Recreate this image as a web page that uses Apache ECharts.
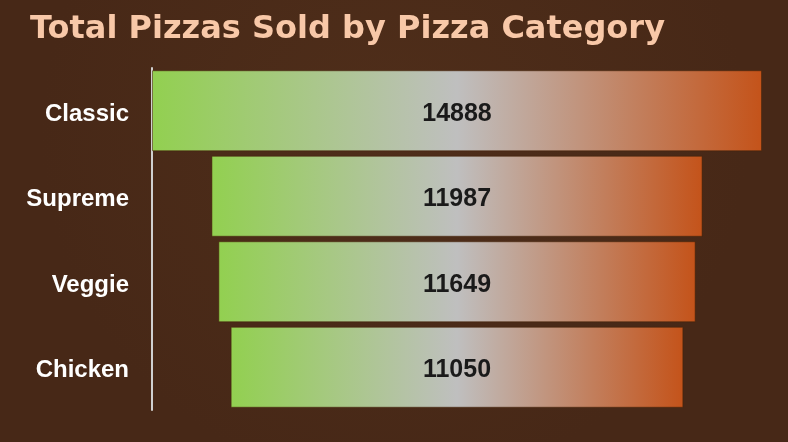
<!DOCTYPE html>
<html><head><meta charset="utf-8">
<script src="https://cdn.jsdelivr.net/npm/echarts@6/dist/echarts.min.js"></script>
<style>html,body{margin:0;padding:0;background:#482917;}#c{width:788px;height:442px;}</style>
</head><body><div id="c"></div>
<script>
const categories = ['Classic', 'Supreme', 'Veggie', 'Chicken'];
const values = [14888, 11987, 11649, 11050];
const titleText = 'Total Pizzas Sold by Pizza Category';

const maxV = Math.max(...values);
const offsets = values.map(v => (maxV - v) / 2);

const grad = {
  type: 'linear', x: 0, y: 0, x2: 1, y2: 0,
  colorStops: [
    { offset: 0, color: '#92D050' },
    { offset: 0.5, color: '#BFBFBF' },
    { offset: 1, color: '#C4531A' }
  ]
};

const chart = echarts.init(document.getElementById('c'));
chart.setOption({
  backgroundColor: {
    type: 'radial', x: 0.5, y: 0.3, r: 0.8,
    colorStops: [{ offset: 0, color: '#4f2e1a' }, { offset: 1, color: '#472817' }]
  },
  animation: false,
  title: {
    text: titleText, left: 25, top: 9,
    textStyle: { color: '#F8C8A8', fontSize: 32, fontWeight: 'bold', fontFamily: 'DejaVu Sans' }
  },
  grid: { left: 152, right: 26, top: 68, height: 342 },
  xAxis: { type: 'value', min: 0, max: maxV, show: false },
  yAxis: {
    type: 'category', data: categories, inverse: true, offset: 1,
    axisLine: { show: true, lineStyle: { color: '#D0D0D0', width: 2 } },
    axisTick: { show: false },
    axisLabel: {
      margin: 22,
      formatter: v => '{a|' + v + '}',
      rich: { a: { color: '#FFFFFF', fontSize: 24, fontWeight: 'bold', fontFamily: 'Liberation Sans', padding: [7, 0, 0, 0] } }
    }
  },
  series: [
    { type: 'bar', stack: 'f', data: offsets, itemStyle: { color: 'transparent' }, barWidth: 81, silent: true },
    {
      type: 'bar', stack: 'f', data: values, barWidth: 81,
      itemStyle: { color: grad, borderColor: 'rgba(70,35,10,0.55)', borderWidth: 1 },
      label: { show: true, position: 'inside', offset: [0, 3], color: '#1a1a1a', fontSize: 25, fontWeight: 'bold', fontFamily: 'Liberation Sans' }
    }
  ]
});
</script></body></html>
